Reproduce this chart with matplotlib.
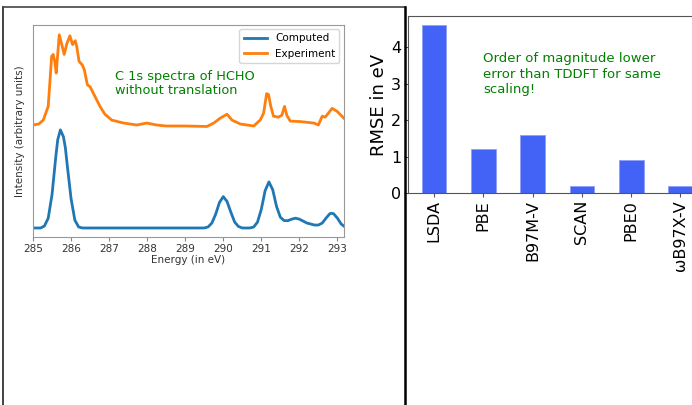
import matplotlib
matplotlib.use("Agg")
import matplotlib.pyplot as plt
from matplotlib.lines import Line2D

# computed C 1s spectrum (normalised)
comp_e = [285.0, 285.2, 285.3, 285.4, 285.5, 285.6, 285.65, 285.72, 285.8, 285.85,
          285.9, 286.0, 286.1, 286.2, 286.3, 287.0, 288.0, 289.0, 289.5, 289.6,
          289.7, 289.8, 289.9, 290.0, 290.1, 290.2, 290.3, 290.4, 290.5, 290.7,
          290.8, 290.9, 291.0, 291.1, 291.2, 291.3, 291.4, 291.5, 291.6, 291.7,
          291.8, 291.9, 292.0, 292.1, 292.2, 292.3, 292.4, 292.5, 292.6, 292.7,
          292.8, 292.85, 292.9, 293.0, 293.1, 293.2]
comp_i = [0.0, 0.0, 0.02, 0.10, 0.34, 0.73, 0.90, 1.0, 0.93, 0.82,
          0.64, 0.30, 0.08, 0.01, 0.0, 0.0, 0.0, 0.0, 0.0, 0.01,
          0.05, 0.14, 0.26, 0.32, 0.27, 0.16, 0.06, 0.015, 0.0, 0.0,
          0.01, 0.06, 0.19, 0.38, 0.47, 0.39, 0.22, 0.11, 0.075, 0.075,
          0.09, 0.10, 0.09, 0.07, 0.05, 0.04, 0.03, 0.03, 0.05, 0.10,
          0.145, 0.15, 0.145, 0.10, 0.04, 0.01]

# experimental spectrum (offset upwards)
exp_e = [285.0, 285.15, 285.27, 285.40, 285.49, 285.53, 285.57, 285.61, 285.69, 285.75,
         285.82, 285.89, 285.97, 286.04, 286.11, 286.15, 286.21, 286.30, 286.35, 286.43,
         286.50, 286.63, 286.76, 286.89, 287.07, 287.38, 287.73, 287.99, 288.25, 288.5,
         289.0, 289.57, 289.75, 289.92, 290.10, 290.23, 290.45, 290.80, 290.97, 291.06,
         291.14, 291.19, 291.25, 291.32, 291.45, 291.54, 291.61, 291.67, 291.76, 292.03,
         292.38, 292.50, 292.60, 292.68, 292.86, 292.99, 293.17]
exp_i = [1.05, 1.06, 1.10, 1.24, 1.75, 1.77, 1.70, 1.58, 1.97, 1.88,
         1.77, 1.88, 1.96, 1.87, 1.91, 1.85, 1.70, 1.66, 1.61, 1.46,
         1.44, 1.34, 1.24, 1.16, 1.10, 1.07, 1.05, 1.07, 1.05, 1.04,
         1.04, 1.035, 1.07, 1.12, 1.16, 1.10, 1.06, 1.04, 1.10, 1.17,
         1.37, 1.36, 1.24, 1.14, 1.13, 1.15, 1.24, 1.15, 1.09, 1.085,
         1.07, 1.05, 1.14, 1.13, 1.22, 1.19, 1.12]

# RMSE of the functionals
functionals = ["LSDA", "PBE", "B97M-V", "SCAN", "PBE0", "ωB97X-V"]
rmse = [4.6, 1.2, 1.6, 0.2, 0.9, 0.2]

fig = plt.figure(figsize=(6.92, 4.05), dpi=100)

# outer frame around the spectrum panel
fig.add_artist(Line2D([3/692, 3/692], [0, 1 - 7/405], color="#222222", lw=1.2))
fig.add_artist(Line2D([3/692, 404.5/692], [1 - 7/405, 1 - 7/405], color="#444444", lw=1.2))
fig.add_artist(Line2D([404.5/692, 404.5/692], [0, 1 - 7/405], color="black", lw=1.8))

# spectra
ax1 = fig.add_axes([33/692, 1 - 237/405, 310.5/692, 212/405])
ax1.plot(comp_e, comp_i, color="#1f77b4", lw=2, label="Computed")
ax1.plot(exp_e, exp_i, color="#ff7f0e", lw=2, label="Experiment")
ax1.set_xlim(285, 293.16)
ax1.set_ylim(-0.092, 2.07)
ax1.set_yticks([])
ax1.set_xticks(range(285, 294))
ax1.tick_params(axis="x", labelsize=7.5, length=3, color="#888888", labelcolor="#333333", pad=2)
ax1.set_xlabel("Energy (in eV)", fontsize=7.5, labelpad=1, color="#333333")
ax1.set_ylabel("Intensity (arbitrary units)", fontsize=7.5, labelpad=6, color="#333333")
for s in ax1.spines.values():
    s.set_color("#999999")
ax1.legend(loc="upper right", fontsize=7.5, handlelength=2.2, borderaxespad=0.4)
ax1.text(0.264, 0.79, "C 1s spectra of HCHO\nwithout translation", transform=ax1.transAxes,
         color="green", fontsize=9.3, va="top", ha="left", linespacing=1.12)

# RMSE bars
ax2 = fig.add_axes([408/692, 1 - 193/405, 320/692, 177/405])
ax2.bar(range(len(functionals)), rmse, width=0.5, color="#4263f5", edgecolor="#8ea0f8", lw=0.6)
ax2.set_xlim(-0.527, (728 - 434) / 49.3)
ax2.set_ylim(0, 4.85)
ax2.set_yticks([0, 1, 2, 3, 4])
ax2.set_xticks(range(len(functionals)))
ax2.set_xticklabels(functionals, rotation=90)
ax2.tick_params(labelsize=11.5, length=3, color="#555555", pad=2)
ax2.set_ylabel("RMSE in eV", fontsize=13, labelpad=2)
for s in ax2.spines.values():
    s.set_color("#555555")
ax2.text(1.0, 3.85, "Order of magnitude lower\nerror than TDDFT for same\nscaling!",
         color="green", fontsize=9.5, va="top", ha="left", linespacing=1.25)

fig.savefig("out.png", dpi=100)
